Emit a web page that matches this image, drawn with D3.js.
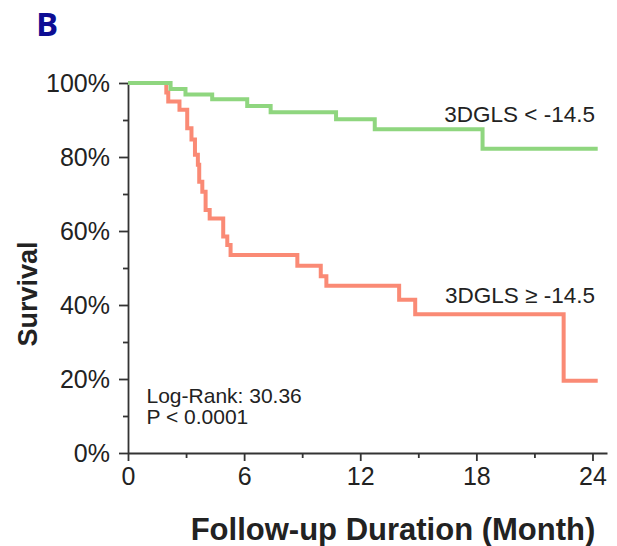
<!DOCTYPE html>
<html>
<head>
<meta charset="utf-8">
<script src="https://cdn.jsdelivr.net/npm/d3@7"></script>
<style>
  body{ margin: 0; background: #fff; }
  svg{ display: block; }
  text{ font-family: "Liberation Sans", Arial, Helvetica, sans-serif; fill: #222; }
</style>
</head>
<body>
<div id="chart"></div>
<script>

// Kaplan-Meier steps (months, survival %).
const low_times = [ 0, 2.2, 2.97, 4.35, 6.16, 7.37, 10.75, 12.75, 18.32, 24.27 ];
const low_surv  = [ 100, 98.4, 96.9, 95.6, 93.8, 92.1, 90.2, 87.5, 82.2, 82.2 ];

const high_times = [ 0, 1.98, 2.08, 2.66, 3.06, 3.28, 3.46, 3.61, 3.68, 3.84, 4.01, 4.22, 4.92, 5.13, 5.30, 8.75, 9.96, 10.25, 14.01, 14.84, 22.51, 24.27 ];
const high_surv  = [ 100, 97.4, 95.0, 92.8, 87.8, 84.7, 80.6, 77.9, 73.3, 70.6, 65.7, 63.4, 58.5, 56.2, 53.5, 50.6, 47.8, 45.2, 41.4, 37.5, 19.5, 19.5 ];

const series_labels = [ '3DGLS < -14.5', '3DGLS \u2265 -14.5' ];
const stats_lines = [ 'Log-Rank: 30.36', 'P < 0.0001' ];

const x_ticks = [ 0, 6, 12, 18, 24 ];
const x_minor = [ 3, 9, 15, 21 ];
const y_ticks = [ 0, 20, 40, 60, 80, 100 ];
const y_minor = [ 10, 30, 50, 70, 90 ];

const width = 617, height = 546;
const axis_color = '#333';

const svg = d3.select( '#chart' )
  .append( 'svg' )
    .attr( 'width', width )
    .attr( 'height', height );

// Scales. x axis line runs a little past 24 months.
const x = d3.scaleLinear().domain( [ 0, 24.75 ] ).range( [ 128, 607 ] );
const y = d3.scaleLinear().domain( [ 0, 100 ] ).range( [ 453, 83 ] );

// Minor ticks first, then the major axis on top.
svg.append( 'g' )
  .attr( 'transform', 'translate(0,' + y( 0 ) + ')' )
  .call( d3.axisBottom( x ).tickValues( x_minor ).tickSize( 5 ).tickFormat( '' ) )
  .call( g => g.select( '.domain' ).remove() );
svg.append( 'g' )
  .attr( 'transform', 'translate(' + x( 0 ) + ',0)' )
  .call( d3.axisLeft( y ).tickValues( y_minor ).tickSize( 5 ).tickFormat( '' ) )
  .call( g => g.select( '.domain' ).remove() );

const x_axis = svg.append( 'g' )
  .attr( 'transform', 'translate(0,' + y( 0 ) + ')' )
  .call( d3.axisBottom( x ).tickValues( x_ticks ).tickSize( 8 ).tickSizeOuter( 0 ).tickPadding( 6 ) );
x_axis.selectAll( 'text' )
  .attr( 'dy', '0.71em' )
  .style( 'font-size', '25px' );

const y_axis = svg.append( 'g' )
  .attr( 'transform', 'translate(' + x( 0 ) + ',0)' )
  .call( d3.axisLeft( y ).tickValues( y_ticks ).tickSize( 9 ).tickSizeOuter( 0 ).tickPadding( 9 )
    .tickFormat( d => d + '%' ) );
y_axis.selectAll( 'text' )
  .style( 'font-size', '25px' );

// Common axis styling.
svg.selectAll( '.domain, .tick line' )
  .attr( 'stroke', axis_color )
  .attr( 'stroke-width', 1.8 );
svg.selectAll( '.tick text' )
  .attr( 'fill', '#222' )
  .style( 'font-family', '"Liberation Sans", Arial, sans-serif' );

// Survival step curves.
const step_line = d3.line()
  .x( d => x( d[0] ) )
  .y( d => y( d[1] ) )
  .curve( d3.curveStepAfter );

const high_data = d3.zip( high_times, high_surv );
const low_data = d3.zip( low_times, low_surv );

svg.append( 'path' )
  .datum( high_data )
  .attr( 'd', step_line )
  .attr( 'fill', 'none' )
  .attr( 'stroke', '#fa8a75' )
  .attr( 'stroke-width', 4 );

svg.append( 'path' )
  .datum( low_data )
  .attr( 'd', step_line )
  .attr( 'fill', 'none' )
  .attr( 'stroke', '#8fd67f' )
  .attr( 'stroke-width', 4 );

// Curve labels, right aligned above each curve.
svg.append( 'text' )
  .attr( 'x', 595 ).attr( 'y', 121.5 )
  .attr( 'text-anchor', 'end' )
  .style( 'font-size', '22.5px' )
  .text( series_labels[0] );
svg.append( 'text' )
  .attr( 'x', 595 ).attr( 'y', 303 )
  .attr( 'text-anchor', 'end' )
  .style( 'font-size', '22.5px' )
  .text( series_labels[1] );

// Log-rank statistics.
svg.selectAll( 'text.stats' )
  .data( stats_lines )
  .enter()
  .append( 'text' )
    .attr( 'class', 'stats' )
    .attr( 'x', 146.5 )
    .attr( 'y', ( d, i ) => 403 + i * 21 )
    .style( 'font-size', '21px' )
    .text( d => d );

// Axis titles.
svg.append( 'text' )
  .attr( 'x', 393 ).attr( 'y', 540 )
  .attr( 'text-anchor', 'middle' )
  .style( 'font-size', '31px' )
  .style( 'font-weight', 'bold' )
  .attr( 'fill', '#111' )
  .text( 'Follow-up Duration (Month)' );

svg.append( 'g' )
  .attr( 'transform', 'translate(37,294)' )
  .append( 'text' )
    .attr( 'text-anchor', 'middle' )
    .attr( 'transform', 'rotate(-90)' )
    .style( 'font-size', '27px' )
    .style( 'font-weight', 'bold' )
    .attr( 'fill', '#111' )
    .text( 'Survival' );

// Panel letter.
svg.append( 'text' )
  .attr( 'x', 36 ).attr( 'y', 36 )
  .style( 'font-family', '"Open Sans", sans-serif' )
  .style( 'font-size', '33px' )
  .style( 'font-weight', 'bold' )
  .style( 'fill', '#0d0d94' )
  .text( 'B' );

</script>
</body>
</html>
